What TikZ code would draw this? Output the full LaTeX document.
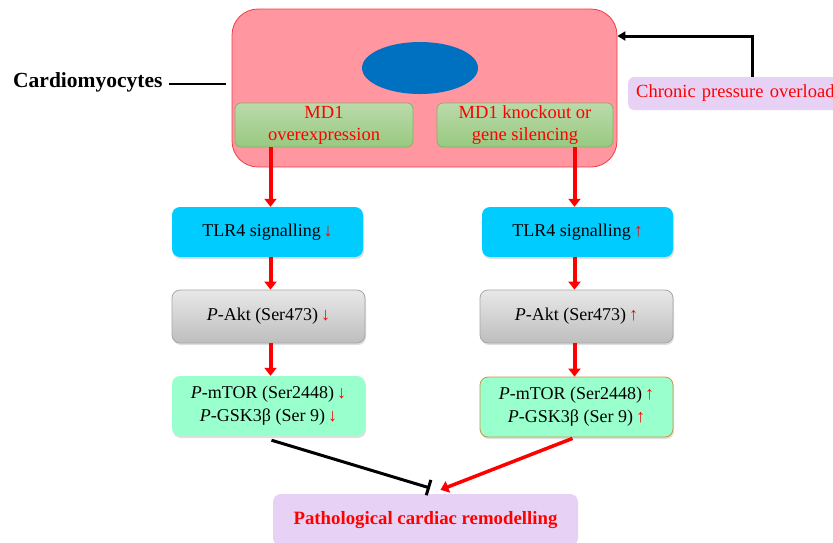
\documentclass[tikz,border=0pt]{standalone}
\usepackage{fontspec}
\setmainfont{Liberation Serif}
\usetikzlibrary{arrows.meta,shapes.geometric,shadows,calc}
\definecolor{cellpink}{RGB}{255,150,160}
\definecolor{cellred}{RGB}{240,60,70}
\definecolor{nucblue}{RGB}{0,112,192}
\definecolor{gtop}{RGB}{186,218,170}
\definecolor{gbot}{RGB}{152,201,128}
\definecolor{gborder}{RGB}{130,180,100}
\definecolor{tlrcyan}{RGB}{0,204,255}
\definecolor{atop}{RGB}{232,232,232}
\definecolor{abot}{RGB}{190,190,190}
\definecolor{aborder}{RGB}{166,166,166}
\definecolor{mint}{RGB}{153,255,204}
\definecolor{mborder}{RGB}{200,150,70}
\definecolor{lav}{RGB}{231,210,246}
\definecolor{txtred}{RGB}{255,0,0}
\tikzset{
  shad/.style={drop shadow={opacity=0.25,shadow xshift=1pt,shadow yshift=-2pt}},
  greenbox/.style={rectangle,rounded corners=6pt,top color=gtop,bottom color=gbot,draw=gborder,line width=0.8pt,
     text=txtred,align=center,font=\fontsize{18.5}{22}\selectfont,inner sep=0pt},
  tlrbox/.style={rectangle,rounded corners=8pt,fill=tlrcyan,shad,align=center,font=\fontsize{18}{22}\selectfont,inner sep=0pt,
     minimum width=191pt,minimum height=50pt},
  aktbox/.style={rectangle,rounded corners=8pt,top color=atop,bottom color=abot,draw=aborder,line width=0.8pt,shad,align=center,
     font=\fontsize{18}{22}\selectfont,inner sep=0pt,minimum width=193pt,minimum height=53pt},
  mtorbox/.style={rectangle,rounded corners=8pt,fill=mint,shad,align=center,font=\fontsize{18}{23}\selectfont,inner sep=0pt,
     minimum width=193pt,minimum height=60pt},
  redarrow/.style={draw=txtred,line width=4pt,-{Triangle[length=8pt,width=12pt]}},
  blkline/.style={draw=black,line width=3pt},
}
\newcommand{\dn}{\textcolor{txtred}{\,↓}}
\newcommand{\up}{\textcolor{txtred}{\,↑}}
\begin{document}
\begin{tikzpicture}[x=1pt,y=-1pt]
\path[use as bounding box] (0,0) rectangle (833,542);
\clip (0,0) rectangle (833,542);
% cell
\node[rectangle,rounded corners=26pt,fill=cellpink,draw=cellred,line width=0.8pt,minimum width=385pt,minimum height=158pt,inner sep=0pt]
  (cell) at (424.5,88) {};
\node[ellipse,fill=nucblue,minimum width=116pt,minimum height=52pt,inner sep=0pt] (nuc) at (420,68) {};
\node[greenbox,minimum width=178pt,minimum height=44pt] (greenL) at (324,125) {MD1\\overexpression};
\node[greenbox,minimum width=176pt,minimum height=44pt] (greenR) at (525,125) {MD1 knockout or\\gene silencing};
% cardiomyocytes label
\node[font=\fontsize{21.5}{25}\selectfont\bfseries,anchor=west,inner sep=0pt] (cardio) at (13,82) {Cardiomyocytes};
\draw[blkline,line width=2.5pt] ($(cardio.east)+(6,2)$) -- ($(cell.west)+(-6,-4)$);
% chronic pressure overload
\node[rectangle,rounded corners=6pt,fill=lav,anchor=west,minimum width=230pt,minimum height=33pt,text=txtred,
  font=\fontsize{18.5}{22}\selectfont,align=left,text width=214pt,inner sep=8pt] (chronic) at (628,93.5) {Chronic pressure overload};
\coordinate (bend) at (752,36);
\draw[blkline,-{Triangle[length=8pt,width=9pt]}] (chronic.north -| bend) -- (bend) -- (bend -| cell.east);
% left column
\node[tlrbox] (tlrL) at (267.5,232) {TLR4 signalling\dn};
\node[aktbox] (aktL) at (268.5,316.5) {\textit{P}-Akt (Ser473)\dn};
\node[mtorbox] (mtorL) at (268.5,406) {\textit{P}-mTOR (Ser2448)\dn\\\textit{P}-GSK3β (Ser 9)\dn};
% right column
\node[tlrbox] (tlrR) at (577.5,232) {TLR4 signalling\up};
\node[aktbox] (aktR) at (576.5,316.5) {\textit{P}-Akt (Ser473)\up};
\node[mtorbox,draw=mborder,line width=0.8pt] (mtorR) at (576.5,407) {\textit{P}-mTOR (Ser2448)\up\\\textit{P}-GSK3β (Ser 9)\up};
% outcome
\node[rectangle,rounded corners=8pt,fill=lav,minimum width=305pt,minimum height=52pt,inner sep=0pt,text=txtred,
  font=\fontsize{18.8}{22}\selectfont\bfseries] (patho) at (425.5,520) {Pathological cardiac remodelling};
% arrows
\draw[redarrow] ($(greenL.south -| tlrL.north)+(3,0)$) -- ($(tlrL.north)+(3,0)$);
\draw[redarrow] ($(tlrL.south)+(3,0)$) -- ($(aktL.north)+(2,0)$);
\draw[redarrow] ($(aktL.south)+(2,0)$) -- ($(mtorL.north)+(2,0)$);
\draw[redarrow] ($(greenR.south -| tlrR.north)+(-3,0)$) -- ($(tlrR.north)+(-3,0)$);
\draw[redarrow] ($(tlrR.south)+(-3,0)$) -- ($(aktR.north)+(-2,0)$);
\draw[redarrow] ($(aktR.south)+(-2,0)$) -- ($(mtorR.north)+(-2,0)$);
\coordinate (barend) at (430,488);
\draw[blkline,-{Bar[width=16pt,line width=3pt]}] ($(mtorL.south)+(3,4)$) -- (barend);
\draw[redarrow,line width=3.5pt] ($(mtorR.south)+(-4,1)$) -- ($(patho.north)+(15,-4)$);
\end{tikzpicture}
\end{document}
